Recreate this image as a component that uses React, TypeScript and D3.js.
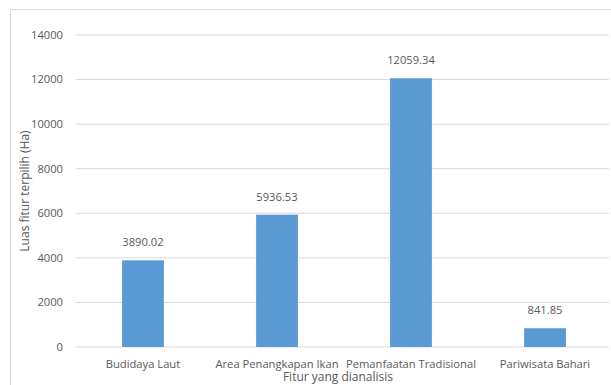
import React from "react";
import * as d3 from "d3";

const categories = ["Budidaya Laut", "Area Penangkapan Ikan", "Pemanfaatan Tradisional", "Pariwisata Bahari"];
const values = [3890.02, 5936.53, 12059.34, 841.85];
const valueLabels = ["3890.02", "5936.53", "12059.34", "841.85"];
const yTicks = [0, 2000, 4000, 6000, 8000, 10000, 12000, 14000];

const W = 611;
const H = 385;
const FONT = "'Open Sans', sans-serif";
const TXT = "#595959";

export default function App() {
  const x = d3.scaleBand<string>().domain(categories).range([76, 612]).paddingInner(0.688).paddingOuter(0.344);
  const y = d3.scaleLinear().domain([0, 14000]).range([347, 35]);
  return (
    <svg width={W} height={H} style={{ position: "absolute", left: 0, top: 0 }}>
      <rect x={0} y={0} width={W} height={H} fill="#fff" />
      <rect x={10.5} y={9.5} width={W + 10} height={H + 10} fill="none" stroke="#d9d9d9" />
      {yTicks.map((t) => (
        <g key={t}>
          <line x1={76} x2={609} y1={y(t)} y2={y(t)} stroke="#d9d9d9" strokeWidth={1} />
          <text x={63} y={y(t)} dy="0.35em" textAnchor="end" fontFamily={FONT} fontSize={11.2} fill={TXT}>
            {t}
          </text>
        </g>
      ))}
      {categories.map((c, i) => (
        <g key={c}>
          <rect x={x(c)} y={y(values[i])} width={x.bandwidth()} height={y(0) - y(values[i])} fill="#5b9bd5" />
          <text x={x(c)! + x.bandwidth() / 2} y={y(values[i]) - 14} textAnchor="middle" fontFamily={FONT} fontSize={11.2} fill={TXT}>
            {valueLabels[i]}
          </text>
          <text x={x(c)! + x.bandwidth() / 2} y={368} textAnchor="middle" fontFamily={FONT} fontSize={11.2} fill={TXT}>
            {c}
          </text>
        </g>
      ))}
      <text x={338} y={381} textAnchor="middle" fontFamily={FONT} fontSize={12} fill={TXT}>
        Fitur yang dianalisis
      </text>
      <text transform={`translate(29,191) rotate(-90)`} textAnchor="middle" fontFamily={FONT} fontSize={12} fill={TXT}>
        Luas fitur terpilih (Ha)
      </text>
    </svg>
  );
}
